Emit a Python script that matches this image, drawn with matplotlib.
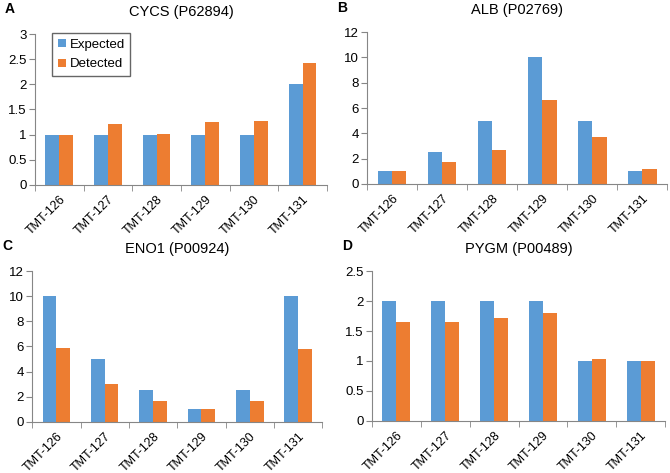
import numpy as np
import matplotlib.pyplot as plt
from matplotlib.ticker import FixedLocator

labels = ["TMT-126", "TMT-127", "TMT-128", "TMT-129", "TMT-130", "TMT-131"]

cycs_expected = [1, 1, 1, 1, 1, 2]
cycs_detected = [1.0, 1.21, 1.01, 1.26, 1.28, 2.43]

alb_expected = [1, 2.5, 5, 10, 5, 1]
alb_detected = [1.0, 1.7, 2.7, 6.6, 3.75, 1.2]

eno1_expected = [10, 5, 2.5, 1, 2.5, 10]
eno1_detected = [5.9, 3.05, 1.65, 1.0, 1.65, 5.8]

pygm_expected = [2, 2, 2, 2, 1, 1]
pygm_detected = [1.65, 1.65, 1.72, 1.8, 1.03, 1.0]

blue = "#5b9bd5"
orange = "#ed7d31"
axis_col = "#868686"

plt.rcParams["font.family"] = ["Liberation Sans", "DejaVu Sans"]

fig = plt.figure(figsize=(6.7, 4.73), dpi=100)

panels = [
    # letter, title, expected, detected, ymax, ystep, rect
    ("A", "CYCS (P62894)", cycs_expected, cycs_detected, 3, 0.5, [0.052, 0.609, 0.436, 0.319]),
    ("B", "ALB (P02769)", alb_expected, alb_detected, 12, 2, [0.548, 0.611, 0.448, 0.321]),
    ("C", "ENO1 (P00924)", eno1_expected, eno1_detected, 12, 2, [0.048, 0.108, 0.433, 0.319]),
    ("D", "PYGM (P00489)", pygm_expected, pygm_detected, 2.5, 0.5, [0.555, 0.110, 0.438, 0.317]),
]

x = np.arange(len(labels))
w = 0.285

for letter, title, exp, det, ymax, ystep, rect in panels:
    ax = fig.add_axes(rect)
    ax.bar(x - w / 2, exp, w, color=blue, label="Expected")
    ax.bar(x + w / 2, det, w, color=orange, label="Detected")
    ax.set_xlim(-0.5, len(labels) - 0.5)
    ax.set_ylim(0, ymax)
    yt = np.arange(0, ymax + ystep / 2, ystep)
    ax.set_yticks(yt)
    ax.set_yticklabels([("%g" % v) for v in yt], fontsize=9.5)
    ax.set_xticks(x)
    ax.set_xticklabels(labels, rotation=45, ha="right", rotation_mode="anchor", fontsize=9)
    ax.xaxis.set_minor_locator(FixedLocator(np.arange(-0.5, len(labels), 1.0)))
    ax.tick_params(axis="x", which="major", length=0, pad=6)
    ax.tick_params(axis="x", which="minor", length=4, color=axis_col, direction="out")
    ax.tick_params(axis="y", length=4, color=axis_col, direction="out", pad=2)
    for s in ["top", "right"]:
        ax.spines[s].set_visible(False)
    for s in ["left", "bottom"]:
        ax.spines[s].set_color(axis_col)
        ax.spines[s].set_linewidth(0.8)
    ax.set_title(title, fontsize=10.5, pad=13)
    bb = ax.get_position()
    fig.text(bb.x0 - 0.045, bb.y1 + 0.052, letter, fontsize=10, fontweight="bold",
             ha="left", va="center")
    if letter == "A":
        ax.legend(loc="upper left", bbox_to_anchor=(0.06, 1.005), fontsize=9.5,
                  frameon=True, fancybox=False, edgecolor="#404040",
                  handlelength=0.6, handleheight=0.6, handletextpad=0.3,
                  borderpad=0.4, labelspacing=0.6, borderaxespad=0.0)

fig.savefig("out.png", dpi=100)
